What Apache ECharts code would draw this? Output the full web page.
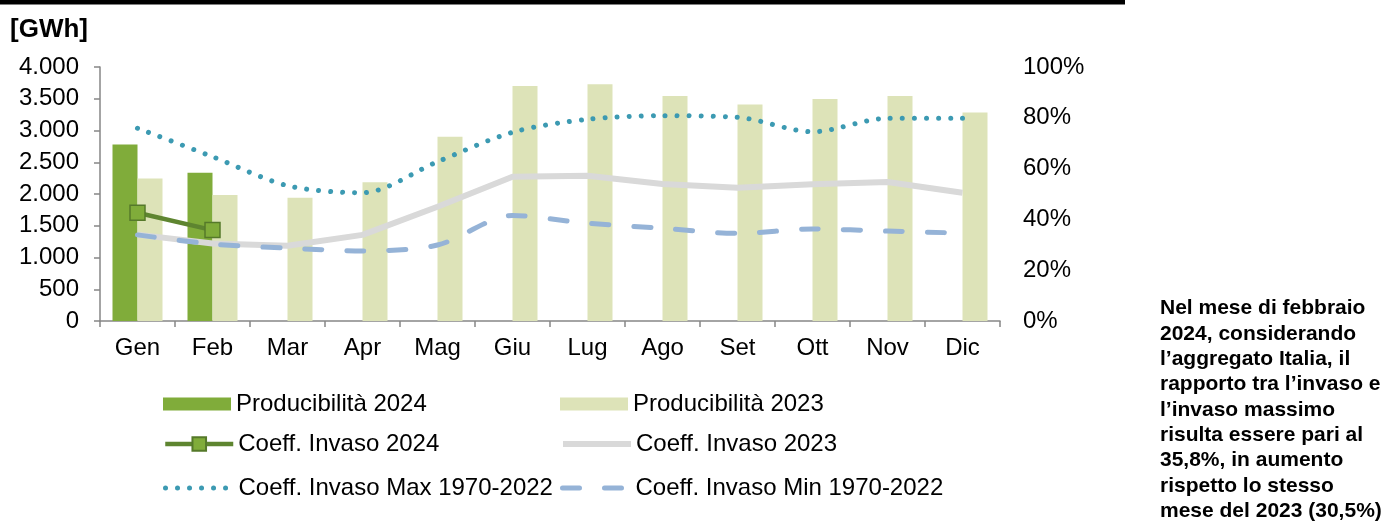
<!DOCTYPE html>
<html>
<head>
<meta charset="utf-8">
<script src="https://cdn.jsdelivr.net/npm/echarts@6/dist/echarts.min.js"></script>
<style>
  html, body { margin: 0; padding: 0; background: #fff; }
  #chart { width: 1388px; height: 521px; }
</style>
</head>
<body>
<div id="chart"></div>
<script>
// dati
const months = ["Gen", "Feb", "Mar", "Apr", "Mag", "Giu", "Lug", "Ago", "Set", "Ott", "Nov", "Dic"];
const prod2024 = [2780, 2335, null, null, null, null, null, null, null, null, null, null];
const prod2023 = [2245, 1985, 1940, 2185, 2900, 3700, 3730, 3545, 3410, 3495, 3545, 3285];
const coeff2024 = [42.6, 35.8, null, null, null, null, null, null, null, null, null, null];
const coeff2023 = [34.0, 30.5, 29.6, 33.9, 45.0, 56.8, 57.2, 53.9, 52.5, 53.8, 54.7, 50.5];
const coeffMax = [75.9, 64.7, 53.3, 50.5, 62.7, 74.3, 79.4, 80.8, 80.2, 74.5, 79.8, 79.8];
const coeffMin = [33.9, 30.3, 28.7, 27.6, 29.9, 41.5, 38.5, 36.5, 34.5, 36.2, 35.4, 34.6];
const noteLines = [
  "Nel mese di febbraio",
  "2024, considerando",
  "l\u2019aggregato Italia, il",
  "rapporto tra l\u2019invaso e",
  "l\u2019invaso massimo",
  "risulta essere pari al",
  "35,8%, in aumento",
  "rispetto lo stesso",
  "mese del 2023 (30,5%)"
];

const FONT = "'Liberation Sans', Arial, sans-serif";
const axisGrey = "#868686";
const noSymbol = { color: "rgba(0,0,0,0)", borderColor: "rgba(0,0,0,0)", borderWidth: 0 };

// legenda: una voce per componente, posizionata a mano
function legendItem(name, left, top, extra) {
  return Object.assign({
    data: [name],
    left: left,
    top: top,
    itemWidth: 68,
    itemHeight: 13,
    itemGap: 0,
    selectedMode: false,
    textStyle: { fontFamily: FONT, fontSize: 24, color: "#000" },
  }, extra || {});
}

const chart = echarts.init(document.getElementById("chart"), null, { renderer: "canvas" });
chart.setOption({
  backgroundColor: "#fff",
  animation: false,
  grid: { left: 100, top: 67, width: 900, height: 254, containLabel: false },
  xAxis: {
    type: "category",
    data: months,
    axisLine: { lineStyle: { color: axisGrey, width: 1.5 } },
    axisTick: { show: true, length: 6, lineStyle: { color: axisGrey, width: 1.5 } },
    axisLabel: { color: "#000", fontFamily: FONT, fontSize: 24, margin: 15 },
  },
  yAxis: [
    {
      type: "value",
      min: 0,
      max: 4000,
      interval: 500,
      splitLine: { show: false },
      axisLine: { show: true, lineStyle: { color: axisGrey, width: 1.5 } },
      axisTick: { show: true, length: 6, lineStyle: { color: axisGrey, width: 1.5 } },
      axisLabel: {
        color: "#000", fontFamily: FONT, fontSize: 24, margin: 21,
        formatter: v => String(v).replace(/\B(?=(\d{3})+(?!\d))/g, "."),
      },
    },
    {
      type: "value",
      min: 0,
      max: 100,
      interval: 20,
      position: "right",
      splitLine: { show: false },
      axisLine: { show: false },
      axisTick: { show: false },
      axisLabel: { color: "#000", fontFamily: FONT, fontSize: 24, margin: 23, formatter: "{value}%" },
    },
  ],
  legend: [
    legendItem("Producibilità 2024", 158, 387, { icon: "rect" }),
    legendItem("Producibilità 2023", 555, 387, { icon: "rect" }),
    legendItem("Coeff. Invaso 2024", 158, 427, { itemHeight: 17, lineStyle: { width: 4.5 } }),
    legendItem("Coeff. Invaso 2023", 555, 427, { lineStyle: { width: 6 }, itemStyle: noSymbol }),
    legendItem("Coeff. Invaso Max 1970-2022", 158, 471, { lineStyle: { width: 5 }, itemStyle: noSymbol }),
    legendItem("Coeff. Invaso Min 1970-2022", 555, 471, { lineStyle: { width: 5 }, itemStyle: noSymbol }),
  ],
  graphic: [
    { type: "rect", left: 0, top: 0, shape: { width: 1125, height: 4.5 }, style: { fill: "#000" } },
    {
      type: "text", left: 10, top: 17,
      style: { text: "[GWh]", font: "bold 26px " + FONT, fill: "#000" },
    },
    {
      type: "text", left: 1160, top: 296,
      style: { text: noteLines.join("\n"), font: "bold 21px " + FONT, lineHeight: 25.3, fill: "#000" },
    },
  ],
  series: [
    {
      name: "Producibilità 2024",
      type: "bar",
      data: prod2024,
      barWidth: 25,
      barGap: "0%",
      itemStyle: { color: "#80AC3A" },
    },
    {
      name: "Producibilità 2023",
      type: "bar",
      data: prod2023,
      barWidth: 25,
      barGap: "0%",
      itemStyle: { color: "#DDE3B8" },
    },
    {
      name: "Coeff. Invaso 2023",
      type: "line",
      yAxisIndex: 1,
      data: coeff2023,
      symbol: "none",
      lineStyle: { color: "#D9D9D9", width: 6 },
      itemStyle: { color: "#D9D9D9" },
    },
    {
      name: "Coeff. Invaso Min 1970-2022",
      type: "line",
      yAxisIndex: 1,
      data: coeffMin,
      symbol: "none",
      smooth: 0.3,
      lineStyle: { color: "#95B3D7", width: 5, type: [17, 25], cap: "round" },
      itemStyle: { color: "#95B3D7" },
    },
    {
      name: "Coeff. Invaso Max 1970-2022",
      type: "line",
      yAxisIndex: 1,
      data: coeffMax,
      symbol: "none",
      smooth: 0.3,
      lineStyle: { color: "#3C9AB2", width: 5, type: [0.01, 12], cap: "round" },
      itemStyle: { color: "#3C9AB2" },
    },
    {
      name: "Coeff. Invaso 2024",
      type: "line",
      yAxisIndex: 1,
      data: coeff2024,
      symbol: "rect",
      symbolSize: 15,
      lineStyle: { color: "#5E8530", width: 4.5 },
      itemStyle: { color: "#80AC3A", borderColor: "#55792A", borderWidth: 1.5 },
      z: 5,
    },
  ],
});
</script>
</body>
</html>
